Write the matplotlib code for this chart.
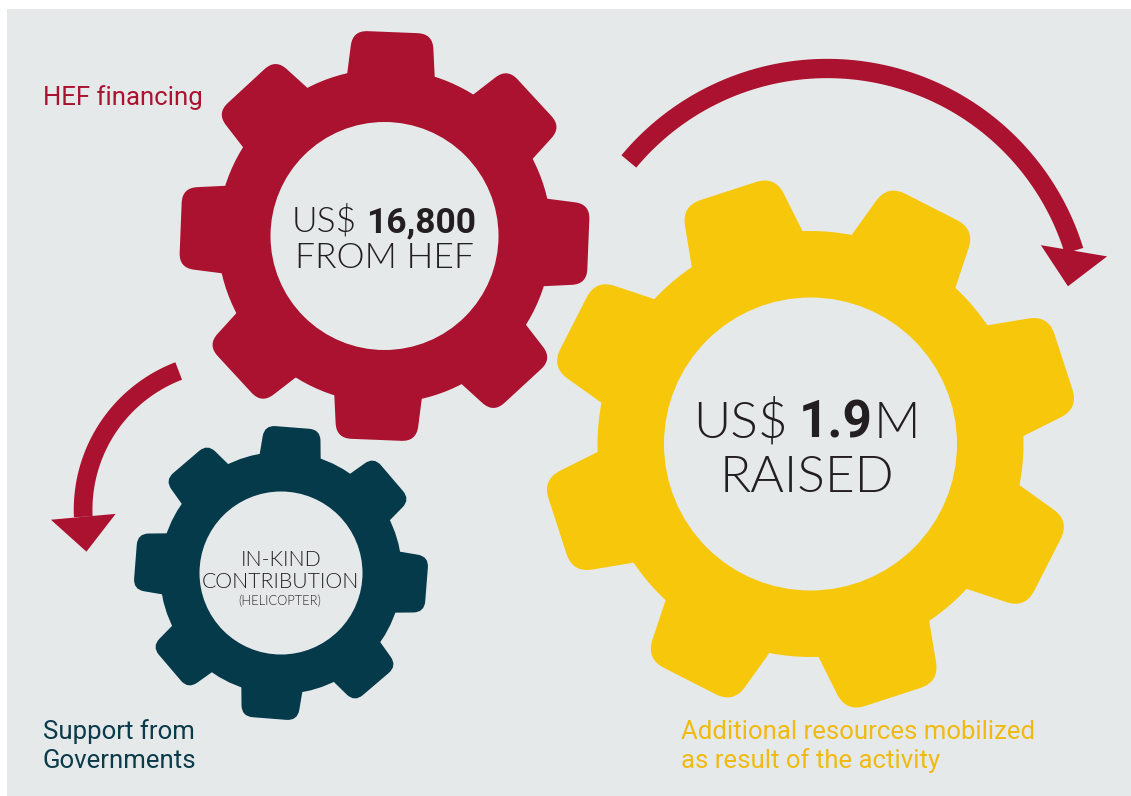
import numpy as np
import matplotlib
matplotlib.use("Agg")
import matplotlib.pyplot as plt
from matplotlib.path import Path
from matplotlib.patches import PathPatch, Circle, Rectangle, Polygon

# ---------------- data ----------------
gear_prefix = ["US$", "", "US$"]
gear_values = ["16,800", "", "1.9"]
gear_suffix = ["", "", "M"]
gear_line2 = ["FROM HEF", "CONTRIBUTION", "RAISED"]
gear_line1_plain = ["", "IN-KIND", ""]
gear_line3 = ["", "(HELICOPTER)", ""]
category_labels = ["HEF financing", "Support from\nGovernments",
                   "Additional resources mobilized\nas result of the activity"]

# ---------------- style ----------------
BG = "#E6E9EA"
RED = "#AA122F"
YEL = "#F7C70B"
TEAL = "#043A4A"
TXT = "#231F20"
FONT = "Roboto"
LFONT = "Lato"
LIGHT = 300

W, H = 1131, 796
fig = plt.figure(figsize=(W / 100, H / 100), dpi=100, facecolor="white")
ax = fig.add_axes([0, 0, 1, 1])
ax.set_xlim(0, W)
ax.set_ylim(H, 0)
ax.axis("off")

ax.add_patch(Rectangle((7, 9), W - 7, H - 9, facecolor=BG, edgecolor="none", zorder=0))


def rounded_path(pts, radii):
    n = len(pts)
    pts = [np.asarray(p, float) for p in pts]
    verts, codes = [], []
    for i in range(n):
        P = pts[i]
        A = pts[i - 1]
        B = pts[(i + 1) % n]
        r = radii[i]
        ua = (A - P) / np.linalg.norm(A - P)
        ub = (B - P) / np.linalg.norm(B - P)
        pin = P + ua * r
        pout = P + ub * r
        verts.append(pin); codes.append(Path.MOVETO if i == 0 else Path.LINETO)
        verts.append(P); codes.append(Path.CURVE3)
        verts.append(pout); codes.append(Path.CURVE3)
    verts.append(verts[0]); codes.append(Path.CLOSEPOLY)
    return Path(verts, codes)


def draw_gear(cx, cy, r_out, r_root, r_in, wr, wt, rc, angle0, color, nteeth=8):
    c = np.array([cx, cy], float)
    ax.add_patch(Circle((cx, cy), r_root, facecolor=color, edgecolor="none", zorder=2))
    for k in range(nteeth):
        th = np.deg2rad(angle0 + 360.0 / nteeth * k)
        er = np.array([np.cos(th), -np.sin(th)])
        et = np.array([np.sin(th), np.cos(th)])
        u0 = r_root - 20
        pts = [c + u0 * er - wr * et,
               c + r_out * er - wt * et,
               c + r_out * er + wt * et,
               c + u0 * er + wr * et]
        path = rounded_path(pts, [0, rc, rc, 0])
        ax.add_patch(PathPatch(path, facecolor=color, edgecolor="none", zorder=2))
    ax.add_patch(Circle((cx, cy), r_in, facecolor=BG, edgecolor="none", zorder=3))


def draw_arrow(cx, cy, r, t0, t1, width, head_dir, head_hw, head_len, color):
    t = np.deg2rad(np.linspace(t0, t1, 200))
    ro, ri = r + width / 2, r - width / 2
    outer = np.column_stack([cx + ro * np.cos(t), cy - ro * np.sin(t)])
    inner = np.column_stack([cx + ri * np.cos(t), cy - ri * np.sin(t)])[::-1]
    ax.add_patch(Polygon(np.vstack([outer, inner]), closed=True, facecolor=color,
                         edgecolor="none", zorder=4))
    P = np.array([cx + r * np.cos(t[-1]), cy - r * np.sin(t[-1])])
    d = np.array(head_dir, float); d /= np.linalg.norm(d)
    n = np.array([-d[1], d[0]])
    head = [P + n * head_hw, P - n * head_hw, P + d * head_len]
    ax.add_patch(Polygon(head, closed=True, facecolor=color, edgecolor="none", zorder=4))


# gears
draw_gear(384.5, 236, 204, 167, 114, 45, 40, 15, 87.7, RED)
draw_gear(810.5, 444, 266, 213, 146.5, 60, 49, 20, 18.0, YEL)
draw_gear(281, 573, 146, 121, 81.5, 32, 28, 11, 85.5, TEAL)

# arrows
draw_arrow(827.2, 326.7, 258.2, 140.2, 17.1, 19.3, (-0.167, 0.986), 33.6, 36, RED)
draw_arrow(231.7, 509.8, 148.6, 110.9, 182.7, 18.7, (0.09, 0.996), 32.5, 35, RED)

renderer = fig.canvas.get_renderer()


def mixed_line(cx, y, parts, size, gap):
    """parts: list of (text, family, weight, gap_after_em); centered on cx at baseline y."""
    texts, widths = [], []
    em = size * 100 / 72
    for s, fam, wgt, g in parts:
        t = ax.text(0, y, s, fontsize=size, fontweight=wgt, family=fam, color=TXT,
                    ha="left", va="baseline", zorder=6)
        texts.append(t)
        widths.append(t.get_window_extent(renderer).width + g * em)
    total = sum(widths)
    x = cx - total / 2
    for i, t in enumerate(texts):
        t.set_x(x)
        x += widths[i]


# red gear text
mixed_line(384, 232, [(gear_prefix[0], LFONT, LIGHT, 0.25),
                      (gear_values[0], FONT, "bold", 0)], 25.5, 0)
ax.text(384, 268, gear_line2[0], fontsize=25.5, fontweight=LIGHT, family=LFONT,
        color=TXT, ha="center", va="baseline", zorder=6)

# yellow gear text
mixed_line(807, 438, [(gear_prefix[2], LFONT, LIGHT, 0.22), (gear_values[2], FONT, "bold", 0.02),
                      (gear_suffix[2], LFONT, LIGHT, 0)], 37, 0)
ax.text(807, 492, gear_line2[2], fontsize=37, fontweight=LIGHT, family=LFONT,
        color=TXT, ha="center", va="baseline", zorder=6)

# teal gear text
ax.text(281, 566, gear_line1_plain[1], fontsize=15.3, fontweight=LIGHT, family=LFONT,
        color=TXT, ha="center", va="baseline", zorder=6)
ax.text(280, 587.5, gear_line2[1], fontsize=15.3, fontweight=LIGHT, family=LFONT,
        color=TXT, ha="center", va="baseline", zorder=6)
ax.text(280, 605, gear_line3[1], fontsize=9.3, fontweight=LIGHT, family=LFONT,
        color=TXT, ha="center", va="baseline", zorder=6)

# category labels
ax.text(43, 105, category_labels[0], fontsize=18.5, family=FONT, color=RED,
        ha="left", va="baseline", zorder=6)
for i, line in enumerate(category_labels[1].split("\n")):
    ax.text(43, 739 + 29 * i, line, fontsize=18.5, family=FONT, color="#0B3A4A",
            ha="left", va="baseline", zorder=6)
for i, line in enumerate(category_labels[2].split("\n")):
    ax.text(681, 739 + 29 * i, line, fontsize=18.5, family=FONT, color="#F0BA12",
            ha="left", va="baseline", zorder=6)

fig.savefig("out.png", dpi=100, facecolor="white")
